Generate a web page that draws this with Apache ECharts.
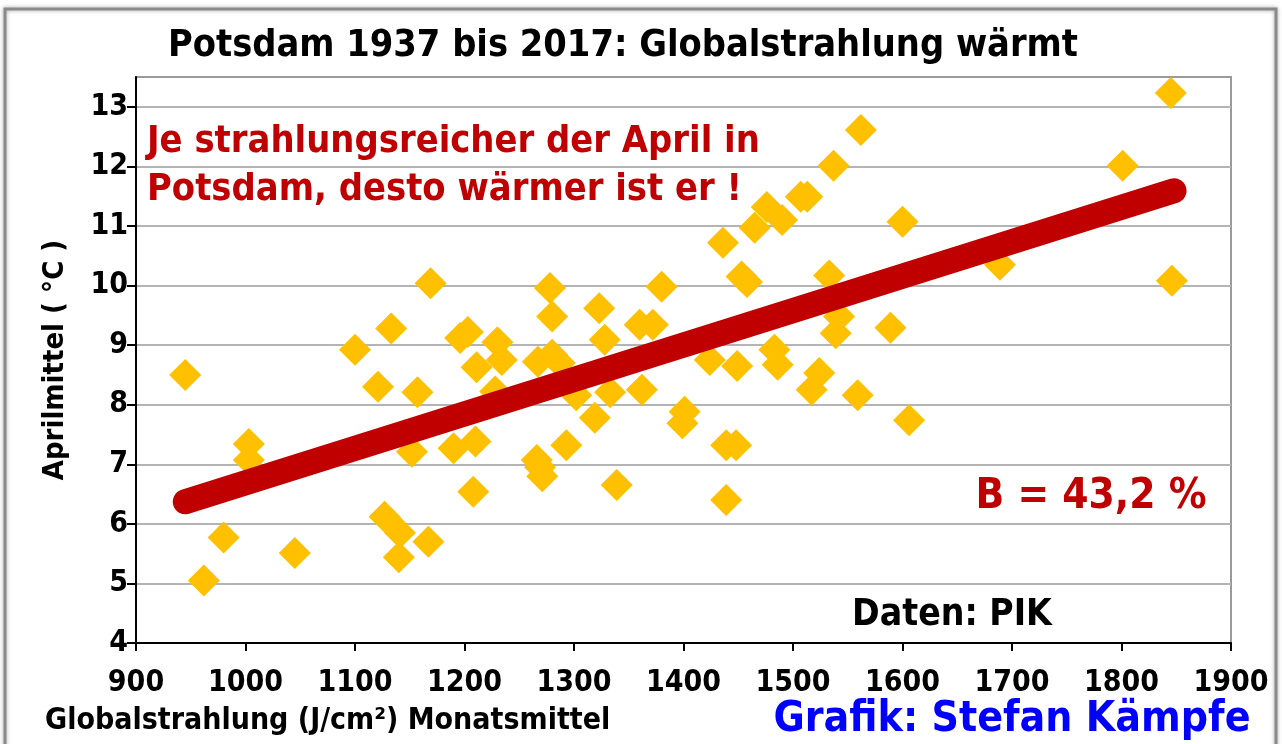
<!DOCTYPE html>
<html>
<head>
<meta charset="utf-8">
<script src="https://cdn.jsdelivr.net/npm/echarts@6/dist/echarts.min.js"></script>
<style>
html,body{margin:0;padding:0;background:#fff;}
#c{width:1282px;height:744px;}
</style>
</head>
<body>
<div id="c"></div>
<script>
// Globalstrahlung (J/cm²) and Aprilmittel (°C), Potsdam 1937-2017
const radiation = [945,962,980,1003,1003,1045,1100,1121,1133,1127,1141,1140,1167,1157,1152,1169,
  1196,1203,1211,1190,1210,1208,1230,1234,1228,1278,1280,1323,1380,1267,1280,1287,1328,1333,
  1360,1372,1362,1302,1319,1293,1266,1271,1269,1339,1401,1399,1424,1449,1439,1448,1439,1483,
  1486,1562,1537,1476,1490,1507,1513,1465,1600,1436,1453,1458,1533,1542,1539,1589,1524,1517,
  1559,1606,1845,1801,1689,1846];
const temperature = [8.50,5.05,5.77,7.34,7.07,5.51,8.92,8.30,9.28,6.12,5.85,5.44,5.70,8.21,7.21,10.04,
  9.12,9.22,8.63,7.27,7.38,6.54,9.05,8.75,8.22,9.96,9.48,9.62,9.98,8.72,8.84,8.70,9.09,8.21,
  9.34,9.34,8.25,8.16,7.78,7.32,7.07,6.80,6.95,6.65,7.88,7.69,8.75,8.65,7.32,7.32,6.40,8.92,
  8.67,12.61,12.01,11.32,11.10,11.49,11.49,10.97,11.07,10.72,10.15,10.06,10.17,9.48,9.20,9.29,8.53,8.25,
  8.16,7.74,13.23,12.01,10.35,10.08];
// trend line end points
const trendX = [945, 1848];
const trendY = [6.37, 11.59];
const xTicks = [900,1000,1100,1200,1300,1400,1500,1600,1700,1800,1900];
const yTicks = [4,5,6,7,8,9,10,11,12,13];

const points = radiation.map((v,i)=>[v, temperature[i]]);
const trend = trendX.map((v,i)=>[v, trendY[i]]);
const F = '"DejaVu Sans Condensed", sans-serif';

const chart = echarts.init(document.getElementById('c'));
chart.setOption({
  backgroundColor:'#fff',
  animation:false,
  grid:{left:136,right:51,top:77,bottom:101,show:true,borderColor:'#9a9a9a',borderWidth:2,backgroundColor:'transparent'},
  xAxis:{type:'value',min:xTicks[0],max:xTicks[xTicks.length-1],interval:100,
    axisLine:{show:true,onZero:false,lineStyle:{color:'#000',width:2}},
    axisTick:{show:true,length:8,lineStyle:{color:'#000',width:2}},
    axisLabel:{color:'#000',fontFamily:F,fontWeight:'bold',fontSize:30,margin:25,
      formatter:v=>String(v)},
    splitLine:{show:false}},
  yAxis:{type:'value',min:yTicks[0],max:13.5,interval:1,
    name:'Aprilmittel ( °C )',nameLocation:'middle',nameGap:66,
    nameTextStyle:{color:'#000',fontFamily:F,fontWeight:'bold',fontSize:29},
    axisLine:{show:true,onZero:false,lineStyle:{color:'#000',width:2}},
    axisTick:{show:true,length:9,customValues:yTicks,lineStyle:{color:'#000',width:2}},
    axisLabel:{color:'#000',fontFamily:F,fontWeight:'bold',fontSize:30,margin:8,
      customValues:yTicks,formatter:v=>String(v)},
    splitLine:{show:true,lineStyle:{color:'#b4b4b4',width:2}}},
  series:[
    {type:'scatter',data:points,symbol:'diamond',symbolSize:32,
      itemStyle:{color:'#FFC000',opacity:1},z:2},
    {type:'line',data:trend,showSymbol:false,symbol:'none',z:3,
      lineStyle:{color:'#C00000',width:25,cap:'round'}}
  ],
  graphic:[
    {type:'rect',shape:{x:5,y:9,width:1271,height:780},
      style:{fill:'none',stroke:'#8a8a8a',lineWidth:3,shadowBlur:4,shadowColor:'rgba(0,0,0,0.35)'},z:-1},
    {type:'text',x:623,y:46,style:{text:'Potsdam 1937 bis 2017: Globalstrahlung wärmt',
      font:'bold 37.6px ' + F,fill:'#000',textAlign:'center',textVerticalAlign:'middle'}},
    {type:'text',x:147,y:142,style:{text:'Je strahlungsreicher der April in',
      font:'bold 37.7px ' + F,fill:'#C00000',textAlign:'left',textVerticalAlign:'middle'},z:10},
    {type:'text',x:147,y:190,style:{text:'Potsdam, desto wärmer ist er !',
      font:'bold 37.7px ' + F,fill:'#C00000',textAlign:'left',textVerticalAlign:'middle'},z:10},
    {type:'text',x:1091,y:497,style:{text:'B = 43,2 %',
      font:'bold 42px ' + F,fill:'#C00000',textAlign:'center',textVerticalAlign:'middle'},z:10},
    {type:'text',x:952,y:615,style:{text:'Daten: PIK',
      font:'bold 37px ' + F,fill:'#000',textAlign:'center',textVerticalAlign:'middle'},z:10},
    {type:'text',x:45,y:721,style:{text:'Globalstrahlung (J/cm²) Monatsmittel',
      font:'bold 30px ' + F,fill:'#000',textAlign:'left',textVerticalAlign:'middle'}},
    {type:'text',x:1012,y:720,style:{text:'Grafik: Stefan Kämpfe',
      font:'bold 42.4px ' + F,fill:'#0000FF',textAlign:'center',textVerticalAlign:'middle'}}
  ]
});
</script>
</body>
</html>
